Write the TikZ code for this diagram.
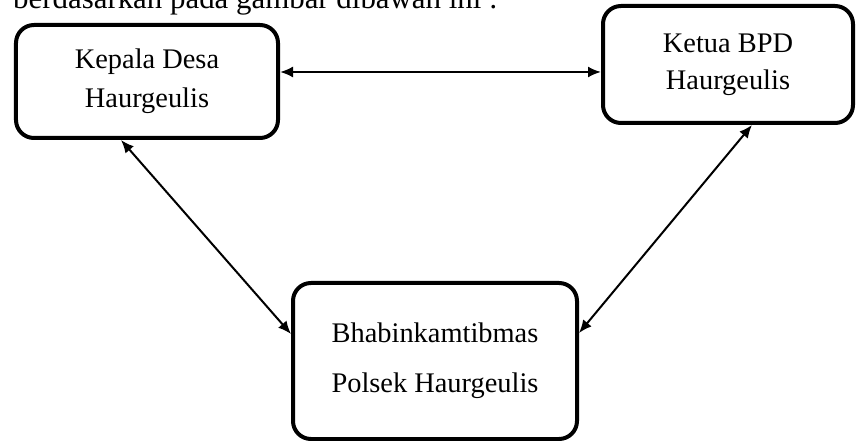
\documentclass[tikz,border=0pt]{standalone}
\usepackage{fontspec}
\setmainfont{Liberation Serif}
\usetikzlibrary{arrows.meta}
\begin{document}
\begin{tikzpicture}[x=1bp,y=-1bp,
  box/.style={draw=black, line width=4bp, rounded corners=18bp, align=center, inner sep=0pt},
  link/.style={line width=2bp, {Latex[length=13bp,width=11bp]}-{Latex[length=13bp,width=11bp]}},
  txt/.style={font=\fontsize{28.5}{39}\selectfont}]
\useasboundingbox (0,0) rectangle (857,441);
\clip (0,0) rectangle (857,441);
\node[anchor=base west, inner sep=0pt, font=\fontsize{31}{36}\selectfont] (intro) at (13,9) {berdasarkan pada gambar dibawah ini :};
\node[box, txt, minimum width=262bp, minimum height=113bp] (A) at (147,81.5) {Kepala Desa\\Haurgeulis};
\node[box, font=\fontsize{28.5}{37}\selectfont, minimum width=250bp, minimum height=117bp] (B) at (728,64.5) {Ketua BPD\\Haurgeulis};
\node[box, font=\fontsize{28.5}{50}\selectfont, minimum width=284bp, minimum height=156bp] (C) at (435,361) {Bhabinkamtibmas\\Polsek Haurgeulis};
\draw[link] (A.east |- 0,72) -- (B.west |- 0,72);
\draw[link] (A.south -| 121,0) -- (C.west |- 0,334);
\draw[link] (B.south -| 752,0) -- (C.east |- 0,333);
\end{tikzpicture}
\end{document}
